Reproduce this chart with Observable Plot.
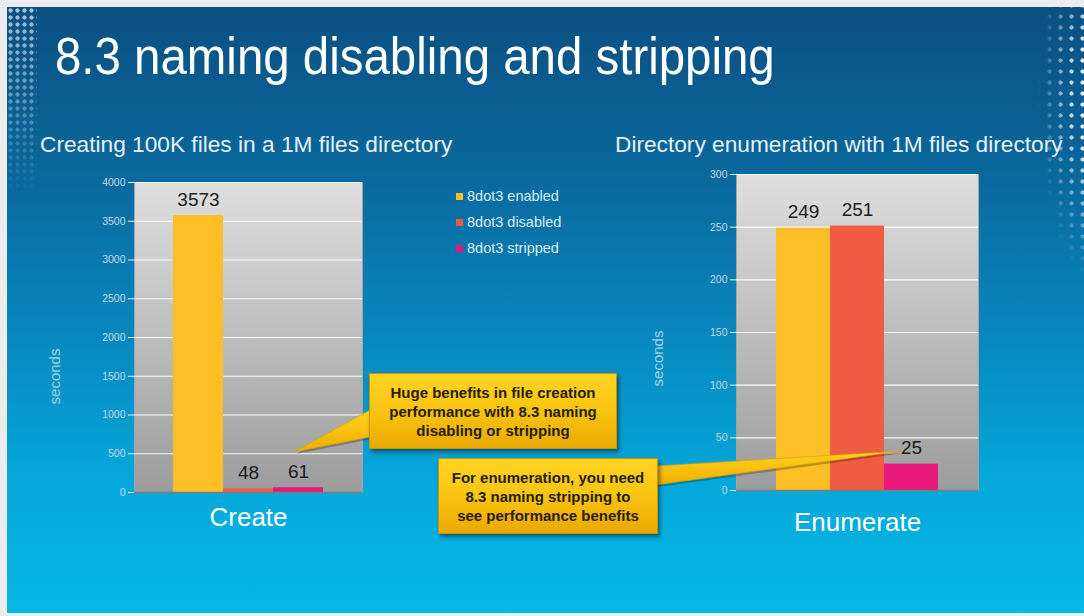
<!DOCTYPE html>
<html>
<head>
<meta charset="utf-8">
<script src="https://cdn.jsdelivr.net/npm/d3@7"></script>
<script src="https://cdn.jsdelivr.net/npm/@observablehq/plot@0.6"></script>
<style>
  html, body { margin: 0; padding: 0; }
  body { width: 1084px; height: 616px; overflow: hidden; background: #ececec; font-family: "Liberation Sans", Arial, sans-serif; }
  #slide { position: absolute; left: 7px; top: 7px; width: 1077px; height: 606px;
    background: linear-gradient(180deg, #0b5082 0%, #0a659a 25%, #0885bb 52%, #05a7da 78%, #06b9e8 100%); overflow: hidden; }
  .abs { position: absolute; }
  #title { left: 48px; top: 23px; font-size: 52px; line-height: 1; color: #ffffff; white-space: nowrap;
    transform: scaleX(0.912); transform-origin: 0 0; }
  .sub { font-size: 22.7px; line-height: 1; color: #e4f2f9; white-space: nowrap; top: 126px; }
  .chart { position: absolute; }
  .chart svg { max-width: none; }
  .lg-row { display: flex; align-items: center; height: 26px; font-size: 14.5px; color: #d8edf7; white-space: nowrap; }
  .lg-sw { width: 7px; height: 7px; margin-right: 4px; }
  .callout { position: absolute; box-sizing: border-box; border: 1px solid #c99400;
    background: linear-gradient(180deg, #ffd425 0%, #fbc613 45%, #eaa900 100%);
    box-shadow: 2px 3px 4px rgba(0,0,0,0.45); color: #262000; font-weight: bold; font-size: 15px;
    line-height: 19px; text-align: center; display: flex; align-items: center; justify-content: center; }
  #overlay { position: absolute; left: 0; top: 0; }
  .dots { position: absolute; background-image: radial-gradient(circle, rgba(255,255,255,0.95) 1.8px, rgba(255,255,255,0) 2.4px); }
</style>
</head>
<body>
<div id="slide"></div>
<script>
// ---------------- data ----------------
const tests = ["Create", "Enumerate"];
const configs = ["8dot3 enabled", "8dot3 disabled", "8dot3 stripped"];
const createValues = [3573, 48, 61];
const enumerateValues = [249, 251, 25];
const colors = ["#fdbe27", "#ef5b43", "#e8197b"];
const createTicks = [0, 500, 1000, 1500, 2000, 2500, 3000, 3500, 4000];
const enumerateTicks = [0, 50, 100, 150, 200, 250, 300];
const yLabel = "seconds";
const titleText = "8.3 naming disabling and stripping";
const subtitles = ["Creating 100K files in a 1M files directory", "Directory enumeration with 1M files directory"];
const callouts = [
  ["Huge benefits in file creation", "performance with 8.3 naming", "disabling or stripping"],
  ["For enumeration, you need", "8.3 naming stripping to", "see performance benefits"]
];

// page offset (slide is at 7,7)
const OX = 7, OY = 7;
const slide = document.getElementById("slide");

// decorative dots
function dots(left, top, w, h, size, mask) {
  const d = document.createElement("div");
  d.className = "dots";
  Object.assign(d.style, { left: left + "px", top: top + "px", width: w + "px", height: h + "px",
    backgroundSize: size + "px " + size + "px", webkitMaskImage: mask, maskImage: mask });
  slide.appendChild(d);
}
dots(1022 - OX, -OY, 80, 340, 11, "radial-gradient(ellipse 75% 55% at 95% 28%, rgba(0,0,0,0.95) 35%, rgba(0,0,0,0) 100%)");
dots(0, 0, 30, 190, 7, "linear-gradient(180deg, rgba(0,0,0,0.7) 0%, rgba(0,0,0,0) 100%)");

// title + subtitles
const t = document.createElement("div");
t.id = "title"; t.className = "abs"; t.textContent = titleText;
slide.appendChild(t);
[[40, subtitles[0]], [615, subtitles[1]]].forEach(([x, s]) => {
  const d = document.createElement("div");
  d.className = "abs sub"; d.style.left = (x - OX) + "px"; d.textContent = s;
  slide.appendChild(d);
});

// defs mark (gradient for plot area)
function defsMark(id) {
  return () => {
    const defs = d3.create("svg:defs");
    const g = defs.append("linearGradient").attr("id", id).attr("x1", 0).attr("y1", 0).attr("x2", 0).attr("y2", 1);
    g.append("stop").attr("offset", "0%").attr("stop-color", "#dedede");
    g.append("stop").attr("offset", "100%").attr("stop-color", "#9c9c9c");
    return defs.node();
  };
}

function makeChart({test, values, ticks, gid, plotW, plotH, labelDx, labelDy, catPad}) {
  const data = configs.map((c, i) => ({test, config: c, value: values[i]}));
  return Plot.plot({
    width: 94 + plotW + 14,
    height: 12 + plotH + 52,
    marginLeft: 94, marginRight: 14, marginTop: 12, marginBottom: 52,
    style: {background: "transparent", fontFamily: "'Liberation Sans', Arial, sans-serif", overflow: "visible"},
    fx: {domain: [test], padding: 0, label: null},
    x: {domain: configs, paddingInner: 0, paddingOuter: 0.74, axis: null},
    y: {domain: [0, ticks[ticks.length - 1]], axis: null},
    color: {domain: configs, range: colors},
    marks: [
      defsMark(gid),
      Plot.frame({fill: `url(#${gid})`, stroke: "#a4a4a4"}),
      Plot.gridY(ticks, {stroke: "#ffffff", strokeOpacity: 0.95, strokeWidth: 1.2}),
      Plot.axisY(ticks, {anchor: "left", tickSize: 6, tickPadding: 3, stroke: "#ffffff", strokeOpacity: 0.9,
        fill: "#c2dae7", fontSize: 10.5, label: null, tickFormat: d => String(d)}),
      Plot.text([yLabel], {frameAnchor: "left", dx: labelDx, dy: labelDy, rotate: -90, textAnchor: "middle",
        lineAnchor: "middle", fontSize: 15, fill: "#a3d2e8"}),
      Plot.barY(data, {fx: "test", x: "config", y: "value", fill: "config"}),
      Plot.ruleY([0], {stroke: "#7e7e7e", strokeWidth: 1.5}),
      Plot.text(data, {fx: "test", x: "config", y: "value", text: d => String(d.value), dy: -16,
        fontSize: 19, fill: "#1c1c1c"}),
      Plot.axisFx({anchor: "bottom", tickSize: 0, tickPadding: catPad, fontSize: 26, fill: "#ffffff", label: null})
    ]
  });
}

function place(node, left, top) {
  const d = document.createElement("div");
  d.className = "chart";
  d.style.left = (left - OX) + "px"; d.style.top = (top - OY) + "px";
  d.appendChild(node);
  slide.appendChild(d);
}

// Chart 1: plot area x 134..362, y 182..492
place(makeChart({test: tests[0], values: createValues, ticks: createTicks, gid: "g-create",
  plotW: 228, plotH: 310, labelDx: -79, labelDy: 39, catPad: 15}), 134 - 94, 182 - 12);
// Chart 2: plot area x 736..978, y 174..490
place(makeChart({test: tests[1], values: enumerateValues, ticks: enumerateTicks, gid: "g-enum",
  plotW: 242, plotH: 316, labelDx: -78, labelDy: 26, catPad: 22}), 736 - 94, 174 - 12);

// legend
const lg = document.createElement("div");
lg.className = "abs";
lg.style.left = (456 - OX) + "px"; lg.style.top = (183 - OY) + "px";
configs.forEach((c, i) => {
  const row = document.createElement("div"); row.className = "lg-row";
  const sw = document.createElement("div"); sw.className = "lg-sw"; sw.style.background = colors[i];
  const tx = document.createElement("span"); tx.textContent = c;
  row.appendChild(sw); row.appendChild(tx); lg.appendChild(row);
});
slide.appendChild(lg);

// callout pointers (annotation overlay)
const ov = d3.select(slide).append("svg").attr("id", "overlay").attr("width", 1077).attr("height", 606)
  .style("pointer-events", "none");
const gd = ov.append("defs").append("linearGradient").attr("id", "gold").attr("x1", 0).attr("y1", 0).attr("x2", 0).attr("y2", 1);
gd.append("stop").attr("offset", "0%").attr("stop-color", "#ffd21e");
gd.append("stop").attr("offset", "100%").attr("stop-color", "#eeae00");
const pointers = [
  [[370, 410], [370, 437], [294, 452]],
  [[656, 466], [656, 485], [902, 451]]
];
pointers.forEach(p => {
  const pts = p.map(([x, y]) => `${x - OX},${y - OY}`).join(" ");
  ov.append("polygon").attr("points", p.map(([x, y]) => `${x - OX + 2},${y - OY + 2}`).join(" "))
    .attr("fill", "rgba(0,0,0,0.25)");
  ov.append("polygon").attr("points", pts).attr("fill", "url(#gold)").attr("stroke", "#d9a000").attr("stroke-width", 0.6);
});

// callout boxes
[[369, 373, 248, 76, callouts[0]], [438, 458, 220, 76, callouts[1]]].forEach(([x, y, w, h, lines]) => {
  const d = document.createElement("div");
  d.className = "callout";
  Object.assign(d.style, {left: (x - OX) + "px", top: (y - OY) + "px", width: w + "px", height: h + "px"});
  d.innerHTML = lines.join("<br>");
  slide.appendChild(d);
});
</script>
</body>
</html>
